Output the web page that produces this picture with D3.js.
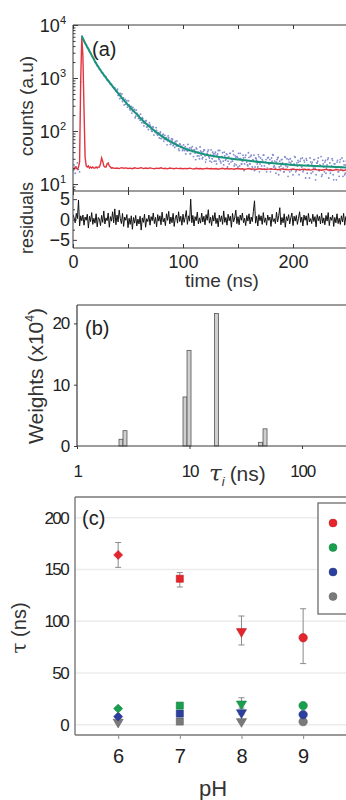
<!DOCTYPE html>
<html>
<head>
<meta charset="utf-8">
<script src="https://cdn.jsdelivr.net/npm/d3@7"></script>
<style>
  body { margin: 0; background: #fff; }
  svg { display: block; font-family: "Liberation Sans", Arial, sans-serif; }
</style>
</head>
<body>
<svg id="fig" width="346" height="800"></svg>
<script>
// ---- panel (a): decay, IRF, fit, residuals (time in ns) ----
// measured counts, one per ns starting at t = 0
const decayCounts = [
  18, 23, 16, 21, 25, 19, 17, 850, 6150, 5550,
  5120, 4510, 4260, 3780, 3570, 3150, 2990, 2620, 2470, 2290,
  2010, 1950, 1720, 1660, 1480, 1430, 1270, 1250, 1110, 1100,
  1050, 920, 900, 860, 760, 770, 680, 640, 650, 560,
  583, 473, 505, 511, 413, 361, 421, 368, 320, 373,
  303, 311, 250, 290, 238, 245, 256, 190, 217, 193,
  200, 160, 172, 178, 143, 141, 157, 119, 134, 123,
  130, 107, 99, 119, 102, 93, 103, 83, 91, 90,
  72, 82, 87, 70, 72, 75, 65, 74, 63, 57,
  65, 53, 60, 64, 52, 55, 46, 57, 49, 52,
  44, 48, 51, 44, 42, 45, 48, 38, 44, 41,
  44, 38, 48, 34, 40, 30, 42, 40, 32, 44,
  34, 29, 38, 44, 31, 35, 26, 40, 33, 37,
  27, 35, 43, 29, 27, 33, 39, 23, 34, 29,
  36, 27, 24, 38, 30, 27, 36, 24, 31, 33,
  21, 30, 38, 24, 27, 31, 24, 35, 26, 22,
  32, 24, 35, 21, 28, 18, 31, 28, 21, 33,
  24, 19, 29, 35, 22, 26, 17, 31, 24, 29,
  19, 27, 35, 22, 20, 26, 31, 15, 27, 22,
  29, 20, 17, 32, 24, 21, 29, 17, 25, 27,
  15, 24, 32, 18, 22, 26, 19, 30, 21, 17,
  28, 19, 30, 16, 23, 13, 26, 24, 17, 29,
  20, 15, 25, 31, 18, 22, 14, 28, 21, 26,
  16, 23, 31, 18, 16, 22, 28, 12, 24, 19,
  26, 17, 14, 29, 21, 18, 27, 15, 23, 25
];

// second read of the cloud, one per ns starting at t = 40.5
const decayCountsHalf = [
  615, 470, 409, 470, 502, 388, 311, 394, 346, 282,
  371, 262, 292, 218, 278, 233, 178, 248, 210, 173,
  173, 209, 144, 172, 125, 145, 157, 121, 107, 143,
  123, 100, 120, 84, 98, 116, 87, 92, 74, 96,
  73, 84, 64, 83, 69, 55, 81, 66, 56, 71,
  70, 55, 49, 59, 65, 52, 43, 56, 50, 43,
  55, 43, 37, 47, 56, 43, 37, 48, 51, 33,
  44, 29, 46, 39, 34, 50, 35, 30, 41, 44,
  26, 36, 41, 33, 27, 44, 30, 37, 27, 40,
  24, 37, 30, 43, 25, 33, 27, 40, 28, 37,
  21, 33, 38, 26, 29, 42, 22, 34, 23, 32,
  38, 22, 30, 24, 35, 18, 32, 28, 23, 39,
  24, 33, 19, 29, 35, 21, 30, 24, 36, 17,
  31, 22, 27, 35, 19, 29, 20, 32, 24, 17,
  31, 36, 21, 27, 16, 29, 32, 21, 18, 29,
  25, 17, 33, 22, 30, 14, 26, 30, 18, 23,
  19, 33, 17, 25, 28, 15, 27, 22, 31, 18,
  26, 13, 28, 23, 19, 31, 16, 26, 20, 29,
  12, 25, 27, 18, 23, 33, 15, 24, 17, 28,
  20, 29, 13, 25, 18, 30, 15, 24, 21, 12,
  28, 17, 26, 19, 31, 14, 23, 16, 27, 20
];

// fitted curve, [t, counts]
const fitCurve = [
  [8, 6200], [10, 5000], [12, 4200], [15, 3200], [18, 2450], [20, 2050],
  [25, 1400], [30, 1010], [35, 740], [40, 550], [45, 410], [50, 312],
  [55, 240], [60, 187], [65, 147], [70, 119], [75, 98], [80, 82],
  [90, 61], [100, 48], [110, 41], [120, 36], [130, 33], [140, 31],
  [150, 29], [160, 27.5], [170, 26], [180, 25], [190, 24], [200, 23],
  [210, 22.5], [220, 22], [230, 21.5], [240, 21], [250, 20.5]
];

// instrument response, [t, counts]
const irfCurve = [
  [0, 20], [1, 19], [2, 21], [3, 20], [4, 19], [5, 21], [6, 26], [7, 900],
  [8, 5800], [9, 2600], [10, 260], [11, 32], [12, 22], [13, 21], [14, 22],
  [15, 20], [16, 21], [17, 20], [18, 21], [19, 20], [20, 20], [21, 21],
  [22, 20], [23, 21], [24, 21], [25, 24], [26, 31], [27, 27], [28, 22],
  [29, 21], [30, 21], [31, 24], [32, 25], [33, 22], [34, 21], [35, 20],
  [36, 20.3], [38, 19.8], [40, 20.1], [42, 19.6], [44, 20.4], [46, 19.9],
  [48, 20.2], [50, 19.7], [52, 20.0], [54, 19.5], [56, 20.3], [58, 19.8],
  [60, 19.9], [62, 20.4], [64, 19.6], [66, 20.1], [68, 19.7], [70, 20.2],
  [72, 19.8], [74, 19.5], [76, 20.0], [78, 19.7], [80, 20.3], [82, 19.6],
  [84, 19.9], [86, 19.4], [88, 20.1], [90, 19.8], [92, 19.5], [94, 20.0],
  [96, 19.6], [98, 19.9], [100, 19.4], [102, 19.8], [104, 19.5], [106, 20.0],
  [108, 19.6], [110, 19.3], [112, 19.8], [114, 19.5], [116, 19.7], [118, 19.2],
  [120, 19.6], [122, 19.9], [124, 19.4], [126, 19.7], [128, 19.3], [130, 19.6],
  [132, 19.1], [134, 19.5], [136, 19.8], [138, 19.3], [140, 19.6], [142, 19.2],
  [144, 19.5], [146, 19.0], [148, 19.4], [150, 19.7], [152, 19.2], [154, 19.4],
  [156, 18.9], [158, 19.3], [160, 19.6], [162, 19.1], [164, 19.3], [166, 18.8],
  [168, 19.2], [170, 19.5], [172, 19.0], [174, 19.2], [176, 18.7], [178, 19.1],
  [180, 19.4], [182, 18.9], [184, 19.1], [186, 18.6], [188, 19.0], [190, 19.3],
  [192, 18.8], [194, 19.0], [196, 18.5], [198, 18.9], [200, 19.2], [202, 18.7],
  [204, 18.9], [206, 18.4], [208, 18.8], [210, 19.1], [212, 18.6], [214, 18.8],
  [216, 18.3], [218, 18.7], [220, 19.0], [222, 18.5], [224, 18.7], [226, 18.2],
  [228, 18.6], [230, 18.9], [232, 18.4], [234, 18.6], [236, 18.1], [238, 18.5],
  [240, 18.8], [242, 18.3], [244, 18.5], [246, 18.0], [248, 18.4], [250, 18.6]
];

// weighted residuals, one per ns from t = 0
const residuals = [
  1.2, 0.4, -0.8, 1.5, 0.2, 4.8, -1.6, 0.9, -0.3, 1.1,
  -1.4, 0.6, -0.2, 1.3, -2.1, 0.8, -0.5, 1.7, -1.2, 0.3,
  -0.9, 1.4, -1.8, 0.5, 0.1, -1.5, 1.0, -0.7, 2.1, -1.1,
  0.4, -0.3, 1.6, -1.9, 0.7, -0.4, 1.9, -0.8, 2.6, -1.3,
  1.1, -0.6, 2.3, 0.2, -1.0, 1.5, -1.7, 0.6, -0.2, 1.2,
  -2.0, 0.3, -1.2, 0.9, -2.4, 0.5, -0.9, 1.0, -1.6, 0.1,
  -1.1, 0.8, -2.6, 0.4, -0.7, 1.3, -1.9, 0.2, -0.5, 1.1,
  -1.4, 0.7, -0.3, 1.6, -1.0, 0.5, -1.8, 1.2, -0.4, 0.9,
  -1.3, 1.8, -0.6, 0.3, -1.5, 1.4, -0.2, 2.0, -1.1, 0.6,
  -0.8, 1.5, -1.7, 0.4, 1.1, -0.9, 1.9, -0.5, 0.8, -1.4,
  1.3, -0.7, 0.5, 2.2, -1.2, 0.9, -0.4, 5.0, -0.8, 1.0,
  -1.6, 0.7, -0.3, 1.8, -1.1, 0.4, -0.9, 1.6, -0.6, 0.8,
  -1.3, 1.2, -0.2, 2.4, -0.9, 0.6, -1.5, 1.0, -0.4, 1.7,
  -1.0, 0.3, -1.8, 1.1, -0.5, 0.9, -1.2, 2.1, -0.7, 0.5,
  -1.4, 1.3, -0.3, 0.8, -1.9, 1.5, -0.6, 0.4, 2.3, -1.0,
  0.7, -1.3, 1.1, -0.2, 1.6, -0.8, 0.3, -1.5, 1.0, -0.4,
  1.4, -1.1, 0.6, -0.5, 2.0, 4.6, -0.9, 0.8, -1.6, 1.2,
  -0.3, 0.9, -1.2, 1.7, -0.7, 0.4, -1.4, 1.1, -0.2, 0.6,
  -1.7, 1.3, -0.5, 0.2, -1.0, 1.8, -0.6, 0.9, 2.9, -1.3,
  0.5, -0.8, 1.4, -1.9, 0.7, -0.3, 1.2, -1.1, 0.4, 1.6,
  -1.5, 0.8, -0.4, 1.0, -1.2, 0.3, 1.9, -0.7, 0.6, -1.6,
  1.1, -0.2, 0.9, -1.4, 1.5, -0.6, 0.2, -1.0, 1.3, -0.5,
  0.7, -1.8, 1.2, -0.3, 0.8, -1.1, 1.6, -0.9, 0.4, -1.3,
  1.0, -0.4, 1.7, -1.5, 0.6, -0.2, 1.1, -1.7, 0.5, -0.8,
  1.4, -1.0, 0.3, -1.2, 0.9, -0.6, 1.5, -1.4, 0.7, -0.1
];

// ---- panel (b): lifetime distribution ----
const binTau = [2.46, 2.67, 9.12, 9.9, 17.4, 42.8, 46.9];     // bin centres (ns)
const binWeight = [1.1, 2.5, 8.0, 15.6, 21.6, 0.6, 2.8];      // x10^4
const binRatio = 1.085;                                       // bin width as a ratio

// ---- panel (c): lifetimes vs pH ----
const pH = [6, 7, 8, 9];
const tauSeries = [
  { name: 'tau4', color: '#7a7a7a', value: [2.5, 3, 3, 2.9], lo: [2, 2, 2, 2], hi: [3, 4, 4, 4],
    shape: ['triangle', 'square', 'triangle', 'circle'] },
  { name: 'tau3', color: '#2d3f9e', value: [7.8, 10.7, 11.6, 9.7], lo: [6, 9, 10, 8], hi: [9, 12, 13, 11],
    shape: ['diamond', 'square', 'triangle', 'circle'] },
  { name: 'tau2', color: '#18a04f', value: [15.5, 18.4, 20, 18.4], lo: [14, 17, 16, 17], hi: [17, 20, 26, 20],
    shape: ['diamond', 'square', 'triangle', 'circle'] },
  { name: 'tau1', color: '#e5252b', value: [164, 141, 90, 84], lo: [152, 133, 77, 59], hi: [176, 147, 105, 112],
    shape: ['diamond', 'square', 'triangle', 'circle'] }
];
const legendColors = ['#e5252b', '#18a04f', '#2d3f9e', '#7a7a7a'];

const svg = d3.select('#fig');
const frame = '#3a3a3a';

function styleAxis(g, size) {
  g.attr('font-family', null).attr('font-size', size);
  g.select('.domain').remove();
  g.selectAll('line').attr('stroke', frame);
  g.selectAll('text').attr('fill', '#222');
}

// ================= panel (a) =================
const xA = d3.scaleLinear().domain([0, 250]).range([73, 348]);
const yA = d3.scaleLog().domain([7.4, 10000]).range([191, 25]);
const yR = d3.scaleLinear().domain([-7, 7]).range([248, 191]);

const defs = svg.append('defs');
defs.append('clipPath').attr('id', 'clipA').append('rect')
  .attr('x', 73).attr('y', 25).attr('width', 273).attr('height', 166);
defs.append('clipPath').attr('id', 'clipR').append('rect')
  .attr('x', 73).attr('y', 191).attr('width', 273).attr('height', 57);

const gA = svg.append('g').attr('clip-path', 'url(#clipA)');

const dots = gA.append('g').attr('fill', '#3e4fb8').attr('opacity', 0.65);
dots.selectAll('.d1')
  .data(decayCounts)
  .enter()
  .append('circle')
  .attr('cx', (d, i) => xA(i))
  .attr('cy', d => yA(d))
  .attr('r', 0.9);
dots.selectAll('.d2')
  .data(decayCountsHalf)
  .enter()
  .append('circle')
  .attr('cx', (d, i) => xA(40.5 + i))
  .attr('cy', d => yA(d))
  .attr('r', 0.9);

gA.append('path')
  .datum(irfCurve)
  .attr('fill', 'none')
  .attr('stroke', '#e2333e')
  .attr('stroke-width', 1.4)
  .attr('d', d3.line().x(d => xA(d[0])).y(d => yA(d[1])));

gA.append('path')
  .datum(fitCurve)
  .attr('fill', 'none')
  .attr('stroke', '#17957a')
  .attr('stroke-width', 2)
  .attr('d', d3.line().curve(d3.curveMonotoneX).x(d => xA(d[0])).y(d => yA(d[1])));

svg.append('g').attr('clip-path', 'url(#clipR)')
  .append('path')
  .datum(residuals)
  .attr('fill', 'none')
  .attr('stroke', '#111')
  .attr('stroke-width', 1)
  .attr('d', d3.line().x((d, i) => xA(i)).y(d => yR(d)));

// frame lines
[[73, 25, 346, 25], [73, 191, 346, 191], [73, 248, 346, 248], [73, 25, 73, 248]].forEach(l => {
  svg.append('line').attr('x1', l[0]).attr('y1', l[1]).attr('x2', l[2]).attr('y2', l[3])
    .attr('stroke', frame).attr('stroke-width', 1);
});

const timeTicks = [0, 50, 100, 150, 200, 250];
[25, 191].forEach(y => {
  svg.append('g').attr('transform', `translate(0,${y})`)
    .call(d3.axisTop(xA).tickValues(timeTicks).tickSize(-4).tickFormat(''))
    .call(g => styleAxis(g, 10));
});
svg.append('g').attr('transform', 'translate(0,191)')
  .call(d3.axisBottom(xA).tickValues(timeTicks).tickSize(-4).tickFormat(''))
  .call(g => styleAxis(g, 10));
svg.append('g').attr('transform', 'translate(0,248)')
  .call(d3.axisBottom(xA).tickValues(timeTicks).tickSize(-4).tickPadding(7)
    .tickFormat(d => d % 100 === 0 ? d : ''))
  .call(g => styleAxis(g, 18));

// log ticks
const majors = [10, 100, 1000, 10000];
const minors = [];
[1, 10, 100, 1000].forEach(p => { for (let k = 2; k <= 9; k++) if (p * k >= 7.4) minors.push(p * k); });
svg.append('g').attr('transform', 'translate(73,0)')
  .call(d3.axisLeft(yA).tickValues(majors).tickSize(-5).tickFormat(''))
  .call(g => styleAxis(g, 10));
svg.append('g').attr('transform', 'translate(73,0)')
  .call(d3.axisLeft(yA).tickValues(minors).tickSize(-2.5).tickFormat(''))
  .call(g => styleAxis(g, 10));

const expLabels = svg.append('g').attr('fill', '#222');
majors.forEach(v => {
  const t = expLabels.append('text')
    .attr('x', 66).attr('y', yA(v) + 7)
    .attr('text-anchor', 'end').attr('font-size', 18);
  t.append('tspan').text('10');
  t.append('tspan').attr('dy', -8).attr('font-size', 11).text(Math.round(Math.log10(v)));
});

svg.append('g').attr('transform', 'translate(73,0)')
  .call(d3.axisLeft(yR).tickValues([-5, 0, 5]).tickSize(-4).tickPadding(3).tickFormat(d3.format('d')))
  .call(g => styleAxis(g, 18));
svg.append('g').attr('transform', 'translate(73,0)')
  .call(d3.axisLeft(yR).tickValues([-2.5, 2.5]).tickSize(-2).tickFormat(''))
  .call(g => styleAxis(g, 10));

svg.append('text').attr('x', 92).attr('y', 56).attr('font-size', 20).attr('fill', '#222').text('(a)');
svg.append('text').attr('transform', 'translate(33,106) rotate(-90)')
  .attr('text-anchor', 'middle').attr('font-size', 19).attr('fill', '#333').text('counts (a.u)');
svg.append('text').attr('transform', 'translate(33,218) rotate(-90)')
  .attr('text-anchor', 'middle').attr('font-size', 18).attr('fill', '#333').text('residuals');
svg.append('text').attr('x', 222).attr('y', 287)
  .attr('text-anchor', 'middle').attr('font-size', 19).attr('fill', '#333').text('time (ns)');

// ================= panel (b) =================
const xB = d3.scaleLog().domain([1, 250]).range([77, 346.8]);
const yB = d3.scaleLinear().domain([0, 23]).range([446, 305]);

svg.append('g').selectAll('rect')
  .data(binTau)
  .enter()
  .append('rect')
  .attr('x', d => xB(d / Math.sqrt(binRatio)))
  .attr('width', d => xB(d * Math.sqrt(binRatio)) - xB(d / Math.sqrt(binRatio)))
  .attr('y', (d, i) => yB(binWeight[i]))
  .attr('height', (d, i) => yB(0) - yB(binWeight[i]))
  .attr('fill', '#cfcfcf')
  .attr('stroke', '#555')
  .attr('stroke-width', 0.8);

[[77, 305, 346, 305], [77, 305, 77, 446], [77, 446, 346, 446]].forEach(l => {
  svg.append('line').attr('x1', l[0]).attr('y1', l[1]).attr('x2', l[2]).attr('y2', l[3])
    .attr('stroke', frame).attr('stroke-width', 1.2);
});

svg.append('g').attr('transform', 'translate(0,446)')
  .call(d3.axisBottom(xB).tickValues([1, 10, 100]).tickSize(3).tickPadding(16).tickFormat(d3.format('d')))
  .call(g => styleAxis(g, 17))
  .selectAll('text').attr('letter-spacing', -1.2);
svg.append('g').attr('transform', 'translate(77,0)')
  .call(d3.axisLeft(yB).tickValues([0, 10, 20]).tickSize(3).tickPadding(5).tickFormat(d3.format('d')))
  .call(g => styleAxis(g, 17))
  .selectAll('text').attr('letter-spacing', -1.2);

svg.append('text').attr('x', 85).attr('y', 335).attr('font-size', 20).attr('fill', '#222').text('(b)');
const wLab = svg.append('text').attr('transform', 'translate(43,376) rotate(-90)')
  .attr('text-anchor', 'middle').attr('font-size', 21).attr('fill', '#333');
wLab.append('tspan').text('Weights (x10');
wLab.append('tspan').attr('dy', -9).attr('font-size', 12).text('4');
wLab.append('tspan').attr('dy', 9).text(')');

const tLab = svg.append('text').attr('x', 209).attr('y', 481).attr('fill', '#333').attr('font-size', 21);
tLab.append('tspan').attr('font-style', 'italic').attr('font-family', '"DejaVu Serif", serif').attr('font-size', 23).text('τ');
tLab.append('tspan').attr('font-style', 'italic').attr('font-size', 13).attr('dy', 5).text('i');
tLab.append('tspan').attr('dy', -5).attr('dx', 5).text('(ns)');

// ================= panel (c) =================
const xC = d3.scaleLinear().domain([5.3, 9.7]).range([75, 346.3]);
const yC = d3.scaleLinear().domain([-10, 220]).range([735, 497]);
const cTicks = [0, 50, 100, 150, 200];

svg.append('g').selectAll('line')
  .data(cTicks)
  .enter()
  .append('line')
  .attr('x1', 75).attr('x2', 346)
  .attr('y1', d => yC(d)).attr('y2', d => yC(d))
  .attr('stroke', '#ececec').attr('stroke-width', 1.5);

[[75, 497, 346, 497], [75, 497, 75, 735], [75, 735, 346, 735]].forEach(l => {
  svg.append('line').attr('x1', l[0]).attr('y1', l[1]).attr('x2', l[2]).attr('y2', l[3])
    .attr('stroke', '#777').attr('stroke-width', 1.4);
});

svg.append('g').attr('transform', 'translate(75,0)')
  .call(d3.axisLeft(yC).tickValues(cTicks).tickSize(0).tickPadding(7).tickFormat(d3.format('d')))
  .call(g => styleAxis(g, 17))
  .selectAll('text').attr('letter-spacing', -1.6);
svg.append('g').attr('transform', 'translate(0,735)')
  .call(d3.axisBottom(xC).tickValues(pH).tickSize(4).tickPadding(10).tickFormat(d3.format('d')))
  .call(g => styleAxis(g, 20))
  .call(g => g.selectAll('line').attr('stroke', '#888'));

// diamonds are squares turned by 45 degrees
const symbolTypes = {
  diamond: d3.symbolSquare, square: d3.symbolSquare, triangle: d3.symbolTriangle, circle: d3.symbolCircle
};
const symbolSize = { diamond: 40, square: 50, triangle: 44, circle: 56 };
const symbolTurn = { diamond: 45, square: 0, triangle: 180, circle: 0 };

tauSeries.forEach(s => {
  const g = svg.append('g');
  // error bars
  g.selectAll('.err')
    .data(pH)
    .enter()
    .append('path')
    .attr('fill', 'none')
    .attr('stroke', '#8a8a8a')
    .attr('stroke-width', 1)
    .attr('d', (p, i) => {
      const x = xC(p), y0 = yC(s.lo[i]), y1 = yC(s.hi[i]);
      return `M${x},${y0}V${y1}M${x - 3},${y0}H${x + 3}M${x - 3},${y1}H${x + 3}`;
    });
  g.selectAll('.mk')
    .data(pH)
    .enter()
    .append('path')
    .attr('transform', (p, i) => `translate(${xC(p)},${yC(s.value[i])}) rotate(${symbolTurn[s.shape[i]]})`)
    .attr('d', (p, i) => d3.symbol().type(symbolTypes[s.shape[i]]).size(symbolSize[s.shape[i]])())
    .attr('fill', s.color)
    .attr('stroke', d3.color(s.color).darker(0.6))
    .attr('stroke-width', 0.6);
});

// legend (cut off at the right edge)
svg.append('rect').attr('x', 318).attr('y', 503).attr('width', 80).attr('height', 111)
  .attr('fill', '#fff').attr('stroke', '#777').attr('stroke-width', 1.4);
svg.append('g').selectAll('circle')
  .data(legendColors)
  .enter()
  .append('circle')
  .attr('cx', 333)
  .attr('cy', (d, i) => 523 + i * 24.5)
  .attr('r', 4)
  .attr('fill', d => d)
  .attr('stroke', d => d3.color(d).darker(0.6))
  .attr('stroke-width', 0.5);

svg.append('text').attr('x', 82).attr('y', 525).attr('font-size', 20).attr('fill', '#222').text('(c)');
const tauLab = svg.append('text').attr('transform', 'translate(26,628) rotate(-90)')
  .attr('text-anchor', 'middle').attr('font-size', 20).attr('fill', '#333');
tauLab.append('tspan').attr('font-family', '"DejaVu Serif", serif').text('τ');
tauLab.append('tspan').text(' (ns)');
svg.append('text').attr('x', 213).attr('y', 796)
  .attr('text-anchor', 'middle').attr('font-size', 22).attr('fill', '#333').text('pH');
</script>
</body>
</html>
